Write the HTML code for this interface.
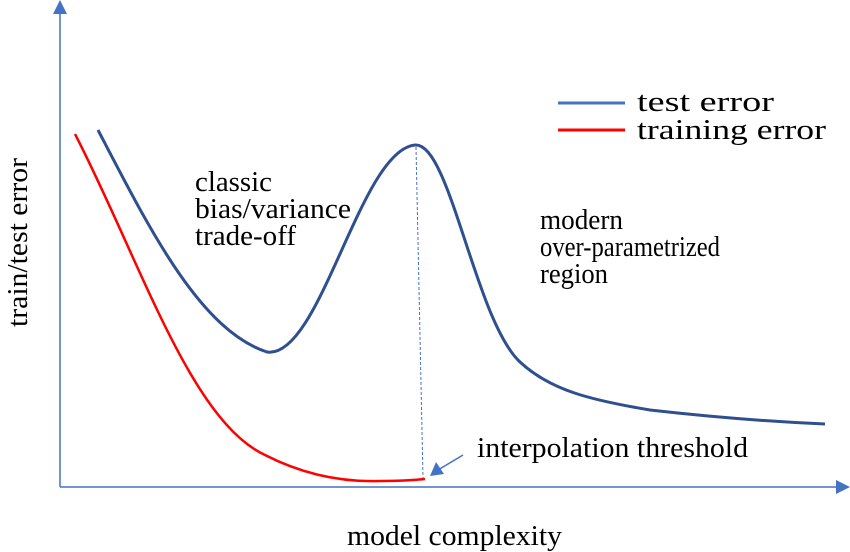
<!DOCTYPE html>
<html><head><meta charset="utf-8"><style>html,body{margin:0;padding:0;background:#fff}svg{display:block}</style></head>
<body>
<svg width="850" height="552" viewBox="0 0 850 552" xmlns="http://www.w3.org/2000/svg" font-family="Liberation Serif, serif" font-size="29" fill="#000">
<line x1="60" y1="14" x2="60" y2="487" stroke="#4472c4" stroke-width="1.5"/>
<polygon points="60,0 53,14 67,14" fill="#4472c4"/>
<line x1="60" y1="487" x2="836" y2="487" stroke="#4472c4" stroke-width="1.5"/>
<polygon points="850,487 836,480 836,494" fill="#4472c4"/>
<path d="M98,130 C150,230 200,330 267,352 C320,360 360,150 415,145 C450,142 475,320 520,362 C550,390 590,400 650,410 C720,418 780,422 825,424" fill="none" stroke="#2f4f8f" stroke-width="3"/>
<path d="M75,134 C140,260 190,420 265,455 C310,478 350,482 380,481 C400,481 415,480 425,479" fill="none" stroke="#ff0000" stroke-width="2.5"/>
<line x1="416" y1="147" x2="423" y2="478" stroke="#4472c4" stroke-width="1" stroke-dasharray="3,2"/>
<line x1="463" y1="455" x2="438" y2="470" stroke="#4472c4" stroke-width="1.5"/>
<polygon points="430,476 436,462 444,474" fill="#4472c4"/>
<line x1="558" y1="103" x2="625" y2="103" stroke="#4472c4" stroke-width="3"/>
<line x1="558" y1="130" x2="625" y2="130" stroke="#ff0000" stroke-width="3"/>
<text x="637" y="111" textLength="137" lengthAdjust="spacingAndGlyphs">test error</text>
<text x="637" y="139" textLength="189" lengthAdjust="spacingAndGlyphs">training error</text>
<text x="195" y="191" textLength="77" lengthAdjust="spacingAndGlyphs">classic</text>
<text x="195" y="218" textLength="156" lengthAdjust="spacingAndGlyphs">bias/variance</text>
<text x="195" y="245" textLength="101" lengthAdjust="spacingAndGlyphs">trade-off</text>
<text x="540" y="229" textLength="83" lengthAdjust="spacingAndGlyphs">modern</text>
<text x="540" y="256" textLength="180" lengthAdjust="spacingAndGlyphs">over-parametrized</text>
<text x="540" y="283" textLength="68" lengthAdjust="spacingAndGlyphs">region</text>
<text x="477" y="457" textLength="271" lengthAdjust="spacingAndGlyphs">interpolation threshold</text>
<text x="347" y="545" textLength="215" lengthAdjust="spacingAndGlyphs">model complexity</text>
<text transform="translate(27,327) rotate(-90)" textLength="169" lengthAdjust="spacingAndGlyphs">train/test error</text>
</svg>
</body></html>
